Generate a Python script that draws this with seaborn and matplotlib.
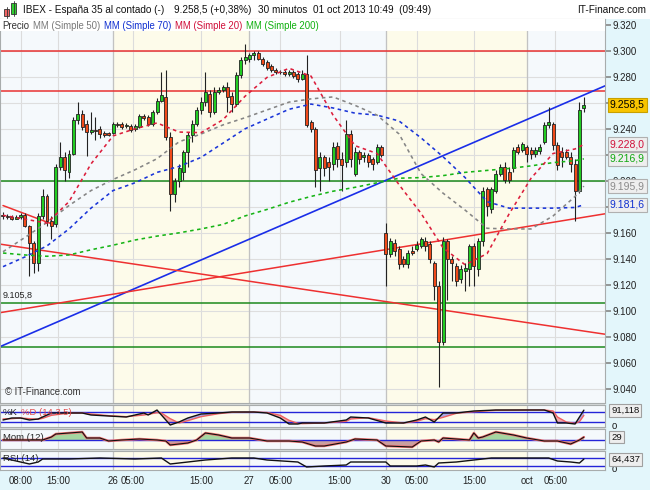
import numpy as np
import pandas as pd
import seaborn as sns
import matplotlib.pyplot as plt
from matplotlib.patches import Rectangle
from matplotlib.lines import Line2D
from matplotlib import transforms

# IBEX 30 min candles (bar number = position on the chart)
opens = [9173.5, 9173, 9172, 9171, 9172, 9173.5, 9165, 9152, 9137, 9173,
         9188, 9169, 9166.5, 9211, 9218.5, 9207, 9221, 9247, 9251.5, 9243.5,
         9237.5, 9239, 9240, 9237, 9237, 9237, 9243.5, 9243.5, 9242, 9242,
         9240, 9241.5, 9250, 9249, 9243.5, 9253, 9261.5, 9264.5, 9234, 9189.5,
         9199.5, 9207, 9222.5, 9235.5, 9243.5, 9254.5, 9260.5, 9266.5, 9253, 9268,
         9269.5, 9272.5, 9265, 9259, 9281, 9292.5, 9294, 9296.5, 9298.5, 9294,
         9291, 9288, 9285, 9283.5, 9284, 9282, 9283.5, 9282, 9278, 9282,
         9245, 9240, 9209.5, 9218, 9214.5, 9213, 9227, 9216.5, 9214.5, 9236,
         9205.5, 9222.5, 9218, 9220, 9216.5, 9214.5, 9226, 9160, 9144, 9152,
         9147.5, 9140, 9136, 9146, 9147.5, 9150, 9153.5, 9151.5, 9137, 9119.5,
         9076, 9153.5, 9140, 9134.5, 9124.5, 9131, 9132.5, 9150, 9132.5, 9153.5,
         9193.5, 9178, 9192, 9205.5, 9211, 9207, 9209.5, 9226, 9224, 9226,
         9224, 9221, 9223, 9230, 9243, 9243.5, 9227.5, 9222.5, 9222.5, 9218.5,
         9213, 9192, 9256]
highs = [9176, 9174.5, 9173.5, 9173.5, 9175, 9175, 9166, 9153.5, 9175, 9194,
         9189.5, 9173, 9213, 9230, 9222.5, 9224, 9249, 9260.5, 9254.5, 9247,
         9253, 9249, 9242, 9238.5, 9237.5, 9245, 9245, 9245, 9244.5, 9243.5,
         9243.5, 9251.5, 9251.5, 9250.5, 9254.5, 9263.5, 9283.5, 9285, 9237.5, 9202.5,
         9213, 9224, 9237.5, 9247, 9256.5, 9264.5, 9283.5, 9269.5, 9272, 9272.5,
         9274, 9276, 9268, 9283.5, 9295, 9305, 9298.5, 9300, 9300, 9295,
         9292.5, 9289.5, 9286.5, 9285.5, 9285.5, 9285.5, 9285, 9283.5, 9285, 9296.5,
         9247, 9241.5, 9222.5, 9219.5, 9218.5, 9230, 9230, 9222.5, 9247, 9239,
         9226, 9224, 9222.5, 9221.5, 9218.5, 9228.5, 9227.5, 9167.5, 9156, 9155,
         9150, 9142, 9147, 9150, 9153.5, 9156.5, 9156.5, 9153.5, 9138.5, 9123,
         9156.5, 9155, 9142, 9137, 9135.5, 9137, 9151.5, 9152, 9156, 9195.5,
         9195.5, 9195.5, 9208.5, 9213, 9214.5, 9211, 9226, 9228.5, 9230, 9227.5,
         9226, 9226, 9228.5, 9245, 9256.5, 9245, 9230, 9226, 9224.5, 9222.5,
         9216.5, 9260.5, 9264.5]
lows = [9171, 9170.5, 9169.5, 9170.5, 9171, 9164.5, 9127, 9129.5, 9131, 9170.5,
        9165, 9155, 9164.5, 9208.5, 9199.5, 9202.5, 9219.5, 9243.5, 9239, 9219,
        9236, 9231.5, 9233, 9234, 9234.5, 9236, 9241.5, 9240, 9240.5, 9237.5,
        9238.5, 9240.5, 9247, 9242, 9242, 9251.5, 9260.5, 9231.5, 9176.5, 9184,
        9195.5, 9201, 9211, 9230, 9242, 9251.5, 9257.5, 9249, 9251.5, 9266.5,
        9268, 9253, 9253, 9257.5, 9279, 9289.5, 9291, 9292.5, 9292.5, 9288,
        9285.5, 9283.5, 9282, 9282, 9280.5, 9280.5, 9279, 9276, 9277.5, 9241.5,
        9237.5, 9195.5, 9192, 9203.5, 9199.5, 9208.5, 9211, 9192, 9211, 9211,
        9203.5, 9213, 9214.5, 9211, 9208.5, 9213, 9218, 9119.5, 9141.5, 9142,
        9132.5, 9134, 9133, 9143, 9146, 9148.5, 9146, 9137, 9108, 9041.5,
        9073.5, 9108, 9123, 9119.5, 9121.5, 9115.5, 9119.5, 9119.5, 9127, 9150,
        9173, 9175, 9190.5, 9203.5, 9198, 9198, 9207, 9221, 9222.5, 9214.5,
        9216.5, 9218.5, 9221, 9228.5, 9240.5, 9224, 9208.5, 9211, 9216.5, 9207,
        9169, 9190.5, 9253]
closes = [9173, 9172, 9171, 9172, 9173.5, 9165, 9152, 9137, 9173, 9188,
          9169, 9165, 9211, 9218.5, 9208.5, 9221, 9247, 9251.5, 9241.5, 9237.5,
          9239, 9238.5, 9236, 9235.5, 9235.5, 9243.5, 9243, 9241.5, 9243, 9239,
          9242, 9250, 9248.5, 9243.5, 9253, 9261.5, 9266, 9234, 9189.5, 9199.5,
          9210, 9222.5, 9235.5, 9243.5, 9254.5, 9260.5, 9268, 9253, 9268, 9269.5,
          9272.5, 9264.5, 9259, 9281, 9292.5, 9295, 9296.5, 9298.5, 9294, 9289.5,
          9287, 9285, 9284, 9284, 9282, 9284, 9280.5, 9278, 9282, 9243,
          9240, 9208.5, 9218, 9210, 9211, 9226, 9216.5, 9212.5, 9236, 9217,
          9222.5, 9216.5, 9220, 9214.5, 9213, 9226, 9220, 9144, 9153.5, 9146,
          9136, 9136, 9144.5, 9144.5, 9150.5, 9155, 9150, 9140, 9119.5, 9076,
          9153.5, 9140, 9137, 9123, 9132.5, 9133, 9150, 9134.5, 9153.5, 9192,
          9180.5, 9193.5, 9205.5, 9211, 9201, 9201, 9224, 9222.5, 9228.5, 9221,
          9221, 9224, 9226, 9243, 9245, 9227.5, 9212.5, 9218.5, 9218.5, 9213,
          9192, 9254.5, 9258.5]

# moving averages, every 5 bars
ma_bars = [0, 5, 10, 15, 20, 25, 30, 35, 40, 45, 50, 55, 60, 65, 70,
           75, 80, 85, 90, 95, 100, 105, 110, 115, 120, 125, 130, 132]
mm50 = [9145.5, 9156.5, 9168, 9181, 9192.5, 9201, 9208.5, 9217, 9230, 9236,
        9243, 9248.5, 9254.5, 9260.5, 9263, 9264.5, 9258, 9250.5, 9236, 9205.5,
        9190.5, 9177.5, 9163.5, 9163, 9163, 9173, 9188, 9195.9]
mm70 = [9134, 9141.5, 9150, 9163, 9179, 9192.5, 9198.5, 9206.5, 9211, 9218,
        9229, 9240, 9247.5, 9255, 9259, 9256, 9252, 9250.5, 9246, 9233,
        9218.5, 9202.5, 9184, 9179, 9179, 9179, 9179.5, 9181.6]
mm20 = [9173.5, 9170.5, 9167.5, 9184, 9213, 9234.5, 9240, 9244.5, 9237.5, 9237,
        9247, 9265, 9279.5, 9286.5, 9280.5, 9250.5, 9227, 9221, 9197, 9175,
        9148.5, 9135.5, 9144, 9174.5, 9202, 9221, 9224.5, 9228.0]
mm200 = [9144.5, 9143, 9142, 9143, 9147, 9150.5, 9154.5, 9157.5, 9160, 9163,
         9166.5, 9173, 9178, 9183.5, 9188, 9192, 9195, 9198.5, 9202, 9202.5,
         9204, 9206.5, 9208, 9209.5, 9211.5, 9214, 9215.5, 9216.9]

# drawn levels and trend lines
levels = [9300, 9269, 9200, 9105.8, 9072]
level_colors = ['#e83232', '#e83232', '#1d8a1d', '#1d8a1d', '#1d8a1d']
trend_bars = [0, 132]
trend_blue = [9073.5, 9266]
trend_red_down = [9151, 9084.5]
trend_red_up = [9099, 9172]
short_bars = [0, 11]
short_red = [9181, 9167]

# indicators
stoch_bars = [0, 2, 4, 6, 8, 9, 11, 15, 18, 20, 24, 28, 32, 33, 35, 36, 38, 40, 42, 45,
              49, 52, 57, 60, 63, 65, 67, 68, 73, 78, 79, 83, 87, 91, 94, 96, 98, 100, 103, 107,
              112, 119, 123, 125, 126, 128, 130, 131, 132]
stoch_k = [32, 44, 44, 32, 38, 50, 74, 74, 74, 62, 56, 50, 74, 62, 92, 62, 2, 20, 44, 68,
           74, 80, 80, 74, 44, 8, 8, 14, 14, 32, 50, 44, 14, 14, 32, 50, 20, 74, 74, 86,
           92, 92, 92, 74, 14, 14, 8, 50, 91.118]
stoch_d = [38, 40, 44, 40, 36, 42, 60, 74, 74, 68, 58, 52, 62, 66, 76, 74, 40, 14, 28, 52,
           70, 78, 80, 77, 60, 30, 12, 10, 14, 24, 38, 46, 26, 14, 24, 40, 34, 48, 72, 82,
           90, 92, 92, 86, 50, 20, 12, 22, 60]
mom_bars = [0, 9, 11, 12, 15, 18, 19, 22, 24, 27, 31, 35, 37, 38, 42, 44, 46, 49, 52, 56,
            60, 65, 68, 71, 73, 78, 80, 85, 87, 93, 95, 98, 99, 100, 106, 107, 108, 109, 112, 116,
            119, 123, 126, 129, 131, 132]
mom = [0, 0, 30, 60, 70, 80, 20, 20, -10, 0, 10, 0, -10, -50, -30, 0, 70, 50, 20, 20,
       -10, -10, -20, -60, -60, -20, 10, 0, -60, -70, -10, 0, -20, 20, 0, 70, 20, 30, 80, 50,
       20, -10, -10, -40, 0, 29]
rsi_bars = [0, 4, 6, 8, 9, 15, 22, 30, 36, 38, 42, 46, 52, 57, 60, 67, 69, 73, 78, 79,
            87, 88, 94, 96, 98, 99, 103, 107, 111, 119, 124, 126, 129, 131, 132]
rsi = [70, 50, 40, 50, 65, 65, 70, 65, 70, 40, 50, 60, 70, 70, 60, 50, 25, 30, 35, 50,
       50, 30, 30, 35, 25, 45, 50, 60, 70, 70, 70, 55, 50, 45, 64.437]

tick_pos = [4, 12.5, 25, 29.5, 45, 56, 63, 76.5, 87, 94, 107, 119, 125.5]
tick_labels = ['08:00', '15:00', '26', '05:00', '15:00', '27', '05:00', '15:00',
               '30', '05:00', '15:00', 'oct', '05:00']
day_edges = [25, 56, 87, 119]
shade_start = [25, 87]
shade_end = [56, 119]
# price ticks covered by the value boxes on the right
hidden_ticks = [9260, 9220, 9180]


def fmt(v, nd=1):
    s = f"{v:,.{nd}f}"
    return s.replace(',', ' ').replace('.', ',').replace(' ', '.')


sns.set_theme(style='white')
plt.rcParams['font.family'] = ['Liberation Sans', 'DejaVu Sans']

W, H = 650, 490
fig = plt.figure(figsize=(6.5, 4.9), dpi=100, facecolor='#e3f6fb')


def rect(l, t, r, b):
    return [l / W, 1 - b / H, (r - l) / W, (b - t) / H]


fig.add_artist(Rectangle((0, 1 - 19 / H), 1, 19 / H, transform=fig.transFigure,
                         fc='white', ec='none', zorder=-5))
fig.add_artist(Rectangle((0, 1 - 470 / H), 605 / W, 67 / H, transform=fig.transFigure,
                         fc='#d6dada', ec='none', zorder=-5))

ax = fig.add_axes(rect(0, 19, 605, 403))
ax_st = fig.add_axes(rect(0, 405, 605, 427), sharex=ax)
ax_mo = fig.add_axes(rect(0, 429, 605, 449), sharex=ax)
ax_rs = fig.add_axes(rect(0, 451, 605, 470), sharex=ax)

for a in [ax, ax_st, ax_mo, ax_rs]:
    a.set_facecolor('#f5f9fc')
    for s0, s1 in zip(shade_start, shade_end):
        a.axvspan(s0, s1, color='#fdfbea', zorder=0, lw=0)
    for t in tick_pos:
        a.axvline(t, color='#dcdcdc', lw=0.8, zorder=0.5)
    for d in day_edges:
        a.axvline(d, color='#c2c2c2', lw=0.9, zorder=0.6)
    for sp in a.spines.values():
        sp.set_color('#a8acac')
        sp.set_linewidth(0.8)
    a.tick_params(axis='x', length=0, labelbottom=False)

ax.set_xlim(-0.68, 136.8)

# ---- main price panel
bars = np.arange(len(closes))
o = np.array(opens)
c = np.array(closes)
body_col = np.where(c >= o, '#22cc22', '#f04a1a')
ax.vlines(bars, lows, highs, color='#222222', lw=0.8, zorder=3)
ax.bar(bars, c - o, bottom=o, width=0.68, color=body_col, edgecolor='#222222',
       linewidth=0.6, zorder=3.5)

ax.set_ylim(9029.2, 9324.4)
yt = np.arange(9040, 9321, 20)
ax.set_yticks(yt)
ax.set_yticklabels(['' if v in hidden_ticks else f"{v / 1000:.3f}" for v in yt])
for v in yt:
    ax.axhline(v, color='#dedede', lw=0.8, zorder=0.5)
ax.yaxis.tick_right()
ax.tick_params(axis='y', right=True, length=4, color='#8a8a8a', labelsize=7,
               pad=1.5, labelcolor='#222222')

for lv, lc in zip(levels, level_colors):
    ax.axhline(lv, color=lc, lw=1.1, zorder=2)

ax.axline((trend_bars[0], trend_blue[0]), (trend_bars[1], trend_blue[1]),
          color='#1a2ee8', lw=1.2, zorder=2)
ax.axline((trend_bars[0], trend_red_down[0]), (trend_bars[1], trend_red_down[1]),
          color='#ee3030', lw=1.1, zorder=2)
ax.axline((trend_bars[0], trend_red_up[0]), (trend_bars[1], trend_red_up[1]),
          color='#ee3030', lw=1.1, zorder=2)
ax.plot(short_bars, short_red, color='#ee3030', lw=1.1, zorder=2)

ma_df = pd.DataFrame({'bar': ma_bars, 'mm50': mm50, 'mm70': mm70,
                      'mm20': mm20, 'mm200': mm200})
ma_style = [('mm200', '#16b416'), ('mm70', '#1a35d8'), ('mm50', '#858585'), ('mm20', '#dc1e3c')]
for col, colr in ma_style:
    sns.lineplot(data=ma_df, x='bar', y=col, ax=ax, color=colr, lw=1.15,
                 linestyle=(0, (2.2, 2.2)), zorder=4)
ax.set_xlabel('')
ax.set_ylabel('')

# legend strip
ax.add_patch(Rectangle((0, 1 - 12 / 384), 1, 12 / 384, transform=ax.transAxes,
                       fc='white', ec='none', zorder=6))
parts = [('Precio', '#333333'), ('MM (Simple 50)', '#7a7a7a'), ('MM (Simple 70)', '#1030d0'),
         ('MM (Simple 20)', '#d0103a'), ('MM (Simple 200)', '#10b010')]
prev = ax.text(0.004, 1 - 7 / 384, parts[0][0], transform=ax.transAxes, fontsize=6.9,
               color=parts[0][1], va='center', zorder=7)
for s, colr in parts[1:]:
    prev = ax.annotate(s, xy=(1, 0.5), xycoords=prev, xytext=(2.6, 0),
                       textcoords='offset points', fontsize=6.9, color=colr,
                       va='center', zorder=7)

ax.text(0.008, 6 / 384, '\u00a9 IT-Finance.com', transform=ax.transAxes, fontsize=6.9,
        color='#333333', va='bottom', zorder=7)
blend = transforms.blended_transform_factory(ax.transAxes, ax.transData)
ax.text(0.005, levels[3] + 3, fmt(levels[3]), transform=blend, fontsize=6.5,
        color='#222222', va='bottom', zorder=7)

# value boxes on the right axis
box_vals = [closes[-1], mm20[-1], mm200[-1], mm50[-1], mm70[-1]]
box_text = ['#000000', '#d0103a', '#10a810', '#8a8a8a', '#1030d0']
box_fc = ['#f8c400', '#eeeeee', '#eeeeee', '#eeeeee', '#eeeeee']
box_ec = ['#c8a000', '#b0b0b0', '#b0b0b0', '#b0b0b0', '#b0b0b0']
for v, tc, fc, ec in zip(box_vals, box_text, box_fc, box_ec):
    ax.text(1 + 5 / 605, v, fmt(v), transform=blend, fontsize=7.5, color=tc,
            va='center', ha='left', zorder=20, clip_on=False,
            bbox=dict(boxstyle='square,pad=0.2', fc=fc, ec=ec, lw=0.8))

# ---- stochastic
ax_st.set_ylim(-10, 122)
k = np.array(stoch_k)
d = np.array(stoch_d)
ax_st.fill_between(stoch_bars, k, d, where=k >= d, interpolate=True, color='#a8a8e8', lw=0, zorder=1)
ax_st.fill_between(stoch_bars, k, d, where=k < d, interpolate=True, color='#f2aaaa', lw=0, zorder=1)
ax_st.axhline(80, color='#2424d8', lw=1, zorder=2)
ax_st.axhline(20, color='#2424d8', lw=1, zorder=2)
sns.lineplot(x=stoch_bars, y=stoch_d, ax=ax_st, color='#ee6060', lw=1, zorder=3)
sns.lineplot(x=stoch_bars, y=stoch_k, ax=ax_st, color='#111111', lw=1, zorder=4)
t0 = ax_st.text(0.005, 0.64, '%K', transform=ax_st.transAxes, fontsize=6.8, va='center', zorder=5)
ax_st.annotate('%D (14 3 5)', xy=(1, 0.5), xycoords=t0, xytext=(2, 0),
               textcoords='offset points', fontsize=6.8, color='#e04848', va='center', zorder=5)

# ---- momentum
ax_mo.set_ylim(-90, 110)
m = np.array(mom)
ax_mo.fill_between(mom_bars, m, 0, where=m >= 0, interpolate=True, color='#a6d6a0', lw=0, zorder=1)
ax_mo.fill_between(mom_bars, m, 0, where=m < 0, interpolate=True, color='#c9a0a0', lw=0, zorder=1)
ax_mo.axhline(0, color='#2424d8', lw=1, zorder=2)
sns.lineplot(x=mom_bars, y=mom, ax=ax_mo, color='#f07070', lw=1.8, zorder=3)
sns.lineplot(x=mom_bars, y=mom, ax=ax_mo, color='#111111', lw=0.8, zorder=4)
ax_mo.text(0.005, 0.6, 'Mom (12)', transform=ax_mo.transAxes, fontsize=6.8, va='center', zorder=5)

# ---- RSI
ax_rs.set_ylim(10, 105)
ax_rs.axhline(70, color='#2424d8', lw=1, zorder=2)
ax_rs.axhline(30, color='#2424d8', lw=1, zorder=2)
sns.lineplot(x=rsi_bars, y=rsi, ax=ax_rs, color='#111111', lw=1, zorder=4)
ax_rs.text(0.005, 0.63, 'RSI (14)', transform=ax_rs.transAxes, fontsize=6.8, va='center', zorder=5)

ind_axes = [ax_st, ax_mo, ax_rs]
ind_last = [stoch_k[-1], mom[-1], rsi[-1]]
ind_fmt = [fmt(stoch_k[-1], 3), f"{mom[-1]}", fmt(rsi[-1], 3)]
for a, v, s in zip(ind_axes, ind_last, ind_fmt):
    a.set_yticks([])
    a.set_xlabel('')
    a.set_ylabel('')
    bl = transforms.blended_transform_factory(a.transAxes, a.transData)
    a.text(1 + 6 / 605, v, s, transform=bl, fontsize=6.8, color='#111111', va='center',
           ha='left', zorder=20, clip_on=False,
           bbox=dict(boxstyle='square,pad=0.2', fc='#eeeeee', ec='#a0a0a0', lw=0.8))
for a in [ax_st, ax_rs]:
    a.text(1 + 7 / 605, 0.02, '0', transform=a.transAxes, fontsize=6.8,
           color='#111111', va='center', ha='left', zorder=15, clip_on=False)

ax_rs.set_xticks(tick_pos)
ax_rs.set_xticklabels(tick_labels)
ax_rs.tick_params(axis='x', labelbottom=True, length=0, pad=4, labelsize=6.9,
                  labelcolor='#222222')

# ---- header
icon = [(4, 9, 5, 7, '#f06464'), (11, 3, 5, 11, '#30d030')]
for l, t, w, h, colr in icon:
    fig.add_artist(Line2D([(l + w / 2) / W] * 2, [1 - (t - 2) / H, 1 - (t + h + 2) / H],
                          transform=fig.transFigure, color='#333333', lw=0.6))
    fig.add_artist(Rectangle((l / W, 1 - (t + h) / H), w / W, h / H, transform=fig.transFigure,
                             fc=colr, ec='#333333', lw=0.6))
hy = 1 - 10 / H
fig.text(23 / W, hy, 'IBEX - España 35 al contado (-)', fontsize=7.2, va='center', color='#111111')
fig.text(174 / W, hy, fmt(closes[-1]) + ' (+0,38%)', fontsize=7.2, va='center', color='#111111')
fig.text(258 / W, hy, '30 minutos', fontsize=7.2, va='center', color='#111111')
fig.text(313 / W, hy, '01 oct 2013 10:49  (09:49)', fontsize=7.2, va='center', color='#111111')
fig.text(646 / W, hy, 'IT-Finance.com', fontsize=7.2, va='center', ha='right', color='#111111')

fig.savefig('out.png', dpi=100, facecolor=fig.get_facecolor())
